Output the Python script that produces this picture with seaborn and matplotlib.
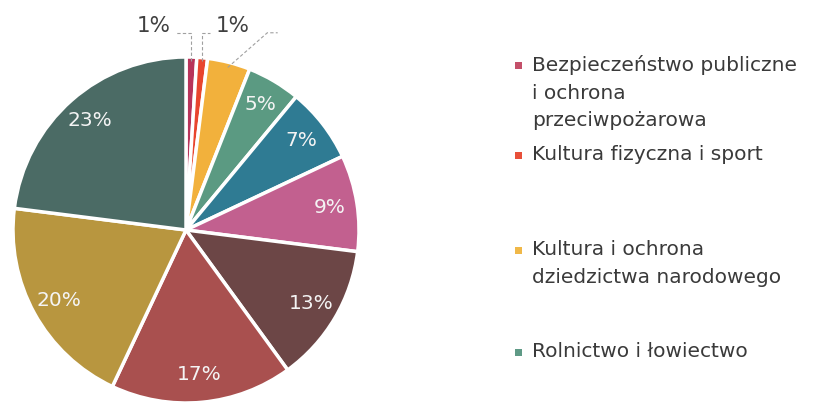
import numpy as np
import matplotlib
matplotlib.use("Agg")
import matplotlib.pyplot as plt
import seaborn as sns
from matplotlib.patches import Rectangle

# data (clockwise from 12 o'clock)
shares = [1, 1, 4, 5, 7, 9, 13, 17, 20, 23]
colors = ['#b8335a', '#e8452e', '#f2b13c', '#5b9a82', '#2f7b93',
          '#c2608f', '#6c4646', '#a9504f', '#b8963f', '#4b6b65']
legend_names = ['Bezpieczeństwo publiczne\ni ochrona\nprzeciwpożarowa',
                'Kultura fizyczna i sport',
                'Kultura i ochrona\ndziedzictwa narodowego',
                'Rolnictwo i łowiectwo']
legend_colors = ['#c4506a', '#e8503a', '#f0b848', '#5f9a86']
legend_y = [65, 155, 250, 352]  # px from top, first line of each entry

sns.set_theme(style='white')
plt.rcParams['font.family'] = ['DejaVu Sans']

W, H = 825, 403
fig = plt.figure(figsize=(W / 100, H / 100), dpi=100)
cx, cy, r = 186, 230, 173
ax = fig.add_axes([(cx - r) / W, (H - cy - r) / H, 2 * r / W, 2 * r / H])


def pct_label(p):
    return f'{p:.0f}%' if p >= 4.5 else ''


wedges, _, autotexts = ax.pie(shares, colors=colors, startangle=90, counterclock=False,
                              autopct=pct_label, pctdistance=0.84,
                              wedgeprops=dict(edgecolor='white', linewidth=2.5),
                              textprops=dict(color='#f4f4f4', fontsize=14.5))
ax.set_xlim(-1, 1)
ax.set_ylim(-1, 1)
ax.set_aspect('equal')

# leader lines for the small slices
dash = dict(color='#a0a0a0', lw=0.8, ls=(0, (3, 2)), clip_on=False)
for idx, tx, txt, side in [(0, -0.06, '1%', 'right'), (1, 0.14, '1%', 'left')]:
    w = wedges[idx]
    ang = np.deg2rad((w.theta1 + w.theta2) / 2)
    px, py = np.cos(ang) * 0.98, np.sin(ang) * 0.98
    ax.plot([px, px, tx], [py, 1.14, 1.14], **dash)
    off = -0.03 if side == 'right' else 0.03
    ax.text(tx + off, 1.18, txt, ha=side, va='center', fontsize=15.5,
            color='#404040', clip_on=False)

w = wedges[2]
ang = np.deg2rad((w.theta1 + w.theta2) / 2)
ax.plot([np.cos(ang) * 0.97, 0.47, 0.53], [np.sin(ang) * 0.97, 1.14, 1.14], **dash)

# legend, only four entries shown
for name, col, y in zip(legend_names, legend_colors, legend_y):
    fig.add_artist(Rectangle((515 / W, (H - y - 4) / H), 7 / W, 7 / H,
                             transform=fig.transFigure, color=col, lw=0))
    fig.text(532 / W, (H - y + 10) / H, name, ha='left', va='top', fontsize=14.5,
             color='#3a3a3a', linespacing=1.58)

fig.savefig('out.png', dpi=100)
